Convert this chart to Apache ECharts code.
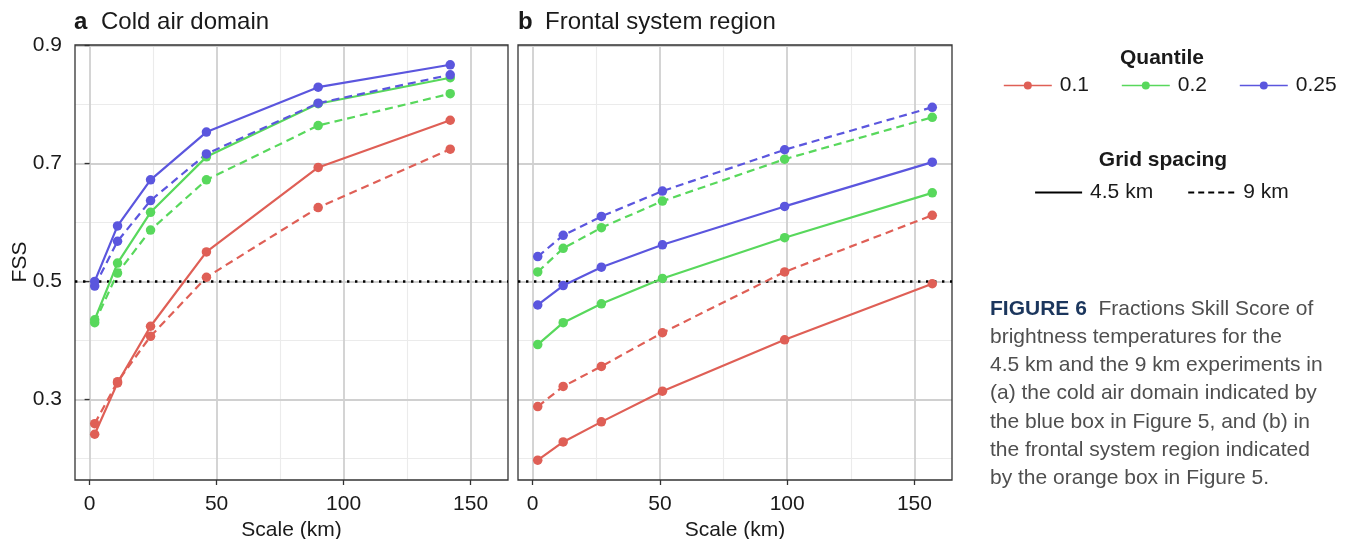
<!DOCTYPE html>
<html>
<head>
<meta charset="utf-8">
<script src="https://cdn.jsdelivr.net/npm/echarts@6/dist/echarts.min.js"></script>
<style>
  html, body { margin: 0; padding: 0; background: #ffffff; }
  #chart { width: 1345px; height: 539px; }
</style>
</head>
<body>
<div id="chart"></div>
<script>
// Neighbourhood scales (km) evaluated in each region
const scalesCold = [2, 11, 24, 46, 90, 142];
const scalesFront = [2, 12, 27, 51, 99, 157];

const quantileNames = ['0.1', '0.2', '0.25'];
const spacingNames = ['4.5 km', '9 km'];

// FSS, cold air domain
const cold45_q010 = [0.241, 0.328, 0.424, 0.550, 0.693, 0.773];
const cold45_q020 = [0.435, 0.531, 0.617, 0.711, 0.801, 0.845];
const cold45_q025 = [0.500, 0.594, 0.672, 0.753, 0.829, 0.867];
const cold9_q010 = [0.259, 0.330, 0.407, 0.507, 0.625, 0.724];
const cold9_q020 = [0.430, 0.514, 0.587, 0.672, 0.764, 0.818];
const cold9_q025 = [0.492, 0.568, 0.637, 0.716, 0.802, 0.850];

// FSS, frontal system region
const front45_q010 = [0.197, 0.228, 0.262, 0.314, 0.401, 0.496];
const front45_q020 = [0.393, 0.430, 0.462, 0.505, 0.574, 0.650];
const front45_q025 = [0.460, 0.493, 0.524, 0.562, 0.627, 0.702];
const front9_q010 = [0.288, 0.322, 0.356, 0.413, 0.516, 0.612];
const front9_q020 = [0.516, 0.556, 0.591, 0.636, 0.707, 0.778];
const front9_q025 = [0.542, 0.578, 0.610, 0.653, 0.723, 0.795];

// Tick positions
const xMajorTicks = [0, 50, 100, 150];
const xMinorTicks = [25, 75, 125];
const yMajorTicks = [0.3, 0.5, 0.7, 0.9];
const yMinorTicks = [0.2, 0.4, 0.6, 0.8];
const skillThreshold = 0.5;

const FONT = '"Liberation Sans", Arial, Helvetica, sans-serif';
const TEXT = '#1a1a1a';
const quantileColors = ['#df5f56', '#58d85c', '#5b56de'];
const dashPattern = [8, 5];

const panels = [
  { scales: scalesCold, solid: [cold45_q010, cold45_q020, cold45_q025], dashed: [cold9_q010, cold9_q020, cold9_q025] },
  { scales: scalesFront, solid: [front45_q010, front45_q020, front45_q025], dashed: [front9_q010, front9_q020, front9_q025] }
];

// shared axis limits, padded by 5% of the data span
const allX = scalesCold.concat(scalesFront);
const allY = [].concat(...panels.map(p => p.solid.concat(p.dashed))).reduce((a, b) => a.concat(b), []);
const xLo = Math.min(...allX), xHi = Math.max(...allX);
const yLo = Math.min(...allY), yHi = Math.max(...allY);
const xMin = xLo - 0.05 * (xHi - xLo), xMax = xHi + 0.05 * (xHi - xLo);
const yMin = yLo - 0.05 * (yHi - yLo), yMax = yHi + 0.05 * (yHi - yLo);

const grids = [
  { left: 75, top: 45, width: 433, height: 435 },
  { left: 518, top: 45, width: 434, height: 435 }
].map(g => Object.assign(g, {
  show: true, z: 1, containLabel: false, outerBoundsMode: 'none',
  backgroundColor: 'transparent', borderColor: '#333333', borderWidth: 1.3
}));

const xAxes = [0, 1].map(i => ({
  type: 'value', gridIndex: i, min: xMin, max: xMax,
  name: 'Scale (km)', nameLocation: 'middle', nameGap: 35,
  nameTextStyle: { fontSize: 21, color: TEXT, fontFamily: FONT },
  axisLine: { show: false },
  splitLine: { show: false },
  axisTick: { show: true, length: 5, customValues: xMajorTicks, lineStyle: { color: '#333333', width: 1.3 } },
  axisLabel: { customValues: xMajorTicks, margin: 14, fontSize: 21, color: TEXT, fontFamily: FONT }
}));

const yAxes = [0, 1].map(i => ({
  type: 'value', gridIndex: i, min: yMin, max: yMax,
  axisLine: { show: false },
  splitLine: { show: false },
  axisTick: { show: i === 0, length: 5, customValues: yMajorTicks, lineStyle: { color: '#333333', width: 1.3 } },
  axisLabel: { show: i === 0, customValues: yMajorTicks, margin: 13, fontSize: 21, color: TEXT, fontFamily: FONT,
    formatter: v => v.toFixed(1) }
}));

const series = [];

// background grid lines
[0, 1].forEach(i => {
  const major = { color: '#d0d0d0', width: 1.8, type: 'solid' };
  const minor = { color: '#ebebeb', width: 1.1, type: 'solid' };
  series.push({
    type: 'line', xAxisIndex: i, yAxisIndex: i, data: [], silent: true, z: 0,
    markLine: {
      silent: true, z: 0, symbol: ['none', 'none'], animation: false,
      label: { show: false }, emphasis: { disabled: true },
      data: []
        .concat(xMinorTicks.map(v => ({ xAxis: v, lineStyle: minor })))
        .concat(yMinorTicks.filter(v => v > yMin).map(v => ({ yAxis: v, lineStyle: minor })))
        .concat(xMajorTicks.map(v => ({ xAxis: v, lineStyle: major })))
        .concat(yMajorTicks.map(v => ({ yAxis: v, lineStyle: major })))
    }
  });
  // FSS = 0.5 skill threshold
  series.push({
    type: 'line', xAxisIndex: i, yAxisIndex: i, data: [], silent: true, z: 1,
    markLine: {
      silent: true, z: 1, symbol: ['none', 'none'], animation: false,
      label: { show: false }, emphasis: { disabled: true },
      lineStyle: { color: '#000000', width: 2.6, type: [2.4, 5.6], cap: 'butt' },
      data: [{ yAxis: skillThreshold }]
    }
  });
});

// FSS curves
panels.forEach((p, i) => {
  [['solid', 'solid'], ['dashed', dashPattern]].forEach(([key, type]) => {
    p[key].forEach((vals, q) => {
      series.push({
        name: quantileNames[q],
        type: 'line', xAxisIndex: i, yAxisIndex: i, z: 3,
        data: p.scales.map((x, k) => [x, vals[k]]),
        symbol: 'circle', symbolSize: 9.5, showSymbol: true,
        itemStyle: { color: quantileColors[q] },
        lineStyle: { color: quantileColors[q], width: 2.2, type: type },
        emphasis: { disabled: true }
      });
    });
  });
});

// grid-spacing key entries
spacingNames.forEach((n, k) => {
  series.push({
    name: n, type: 'line', xAxisIndex: 0, yAxisIndex: 0, data: [],
    symbol: 'none', itemStyle: { color: 'rgba(0,0,0,0)' },
    lineStyle: { color: '#000000', width: 2.2, type: k === 0 ? 'solid' : [6, 4] }
  });
});

const captionLines = [
  '{fig|FIGURE 6}  Fractions Skill Score of',
  'brightness temperatures for the',
  '4.5 km and the 9 km experiments in',
  '(a) the cold air domain indicated by',
  'the blue box in Figure 5, and (b) in',
  'the frontal system region indicated',
  'by the orange box in Figure 5.'
];

const option = {
  animation: false,
  backgroundColor: '#ffffff',
  textStyle: { fontFamily: FONT },
  grid: grids,
  xAxis: xAxes,
  yAxis: yAxes,
  legend: [
    {
      data: quantileNames, left: 1003, top: 75, padding: 0, orient: 'horizontal',
      itemWidth: 48, itemHeight: 10, itemGap: 32, selectedMode: false,
      lineStyle: { width: 1.6 },
      textStyle: { fontSize: 21, color: TEXT, fontFamily: FONT, padding: [0, 0, 0, 3] }
    },
    {
      data: spacingNames, left: 1034, top: 182, padding: 0, orient: 'horizontal',
      itemWidth: 47, itemHeight: 10, itemGap: 34, selectedMode: false,
      lineStyle: { width: 2.2 },
      textStyle: { fontSize: 21, color: TEXT, fontFamily: FONT, padding: [0, 0, 0, 3] }
    }
  ],
  graphic: [
    { type: 'text', left: 74, top: 10, style: { text: 'a', font: 'bold 24px ' + FONT, fill: TEXT } },
    { type: 'text', left: 101, top: 10, style: { text: 'Cold air domain', font: '24px ' + FONT, fill: TEXT } },
    { type: 'text', left: 518, top: 10, style: { text: 'b', font: 'bold 24px ' + FONT, fill: TEXT } },
    { type: 'text', left: 545, top: 10, style: { text: 'Frontal system region', font: '24px ' + FONT, fill: TEXT } },
    { type: 'text', x: 20, y: 262, rotation: Math.PI / 2,
      style: { text: 'FSS', font: '21px ' + FONT, fill: TEXT, align: 'center', verticalAlign: 'middle' } },
    { type: 'text', x: 1162, y: 58,
      style: { text: 'Quantile', font: 'bold 21px ' + FONT, fill: TEXT, align: 'center', verticalAlign: 'middle' } },
    { type: 'text', x: 1163, y: 160,
      style: { text: 'Grid spacing', font: 'bold 21px ' + FONT, fill: TEXT, align: 'center', verticalAlign: 'middle' } },
    { type: 'text', x: 990, y: 295,
      style: {
        text: captionLines.join('\n'), font: '21px ' + FONT, fill: '#4f4f4f',
        lineHeight: 28.2, verticalAlign: 'top', align: 'left',
        rich: { fig: { font: 'bold 21px ' + FONT, fill: '#1b365d', lineHeight: 28.2 } }
      } }
  ],
  series: series
};

const chart = echarts.init(document.getElementById('chart'), null, { renderer: 'canvas' });
chart.setOption(option);
</script>
</body>
</html>
